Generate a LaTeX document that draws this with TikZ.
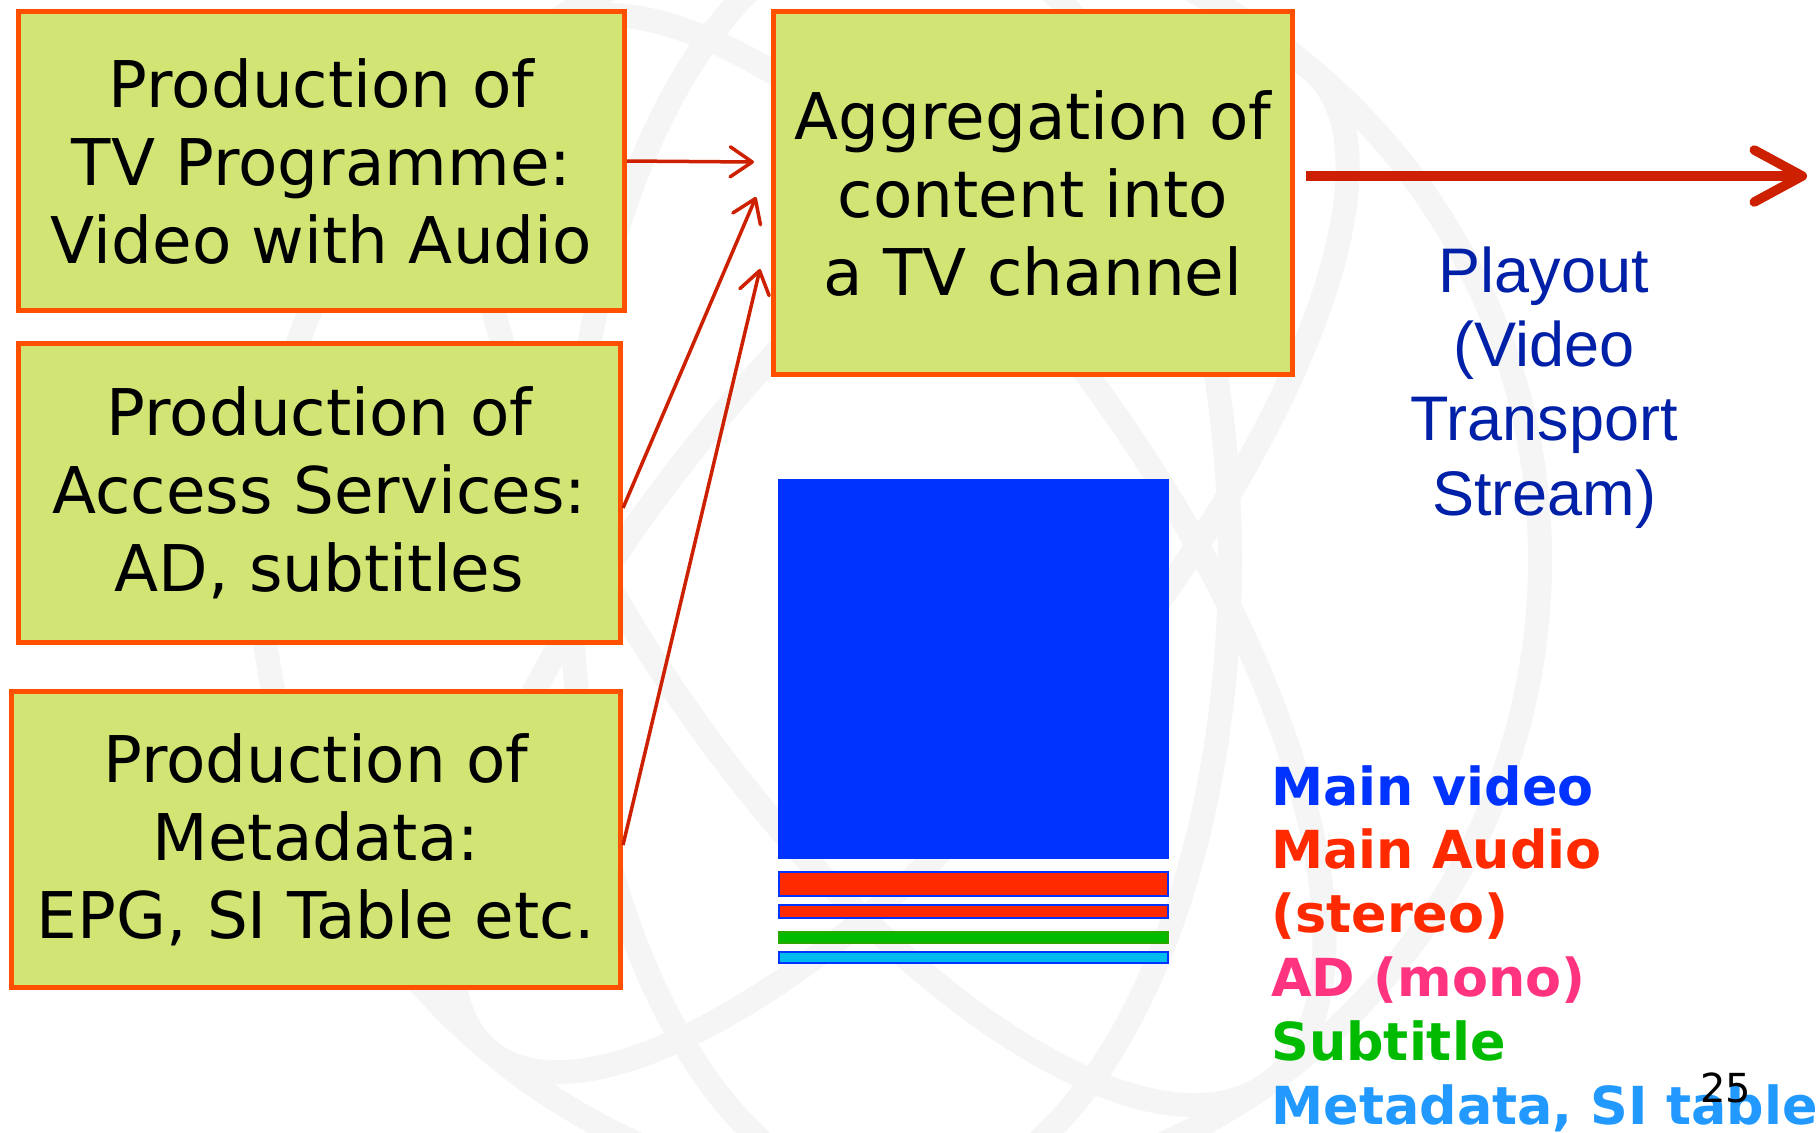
\documentclass[tikz,border=0pt]{standalone}
\usepackage{fontspec}
\setmainfont{DejaVu Sans}
\newfontfamily\arialf{Liberation Sans}
\usetikzlibrary{arrows.meta,calc}
\definecolor{boxfill}{HTML}{D1E474}
\definecolor{boxline}{HTML}{FF5000}
\definecolor{arrowred}{HTML}{CD2000}
\definecolor{playblue}{HTML}{0020A8}
\definecolor{vblue}{HTML}{0033FF}
\definecolor{ared}{HTML}{FF2A00}
\definecolor{adpink}{HTML}{FF3380}
\definecolor{subgreen}{HTML}{00BB00}
\definecolor{metablue}{HTML}{2299FF}
\definecolor{cyanfill}{HTML}{00BBEE}
\definecolor{wm}{HTML}{F5F5F5}
\tikzset{
  prodbox/.style={draw=boxline, fill=boxfill, line width=2.5pt, inner sep=0pt,
    align=center, font=\fontsize{32.2}{39}\selectfont, text=black},
  smallarrow/.style={draw=arrowred, line width=1.75pt,
    -{Straight Barb[length=11pt,width=15pt,round]}},
  bigarrow/.style={draw=arrowred, line width=4.75pt,
    -{Straight Barb[length=24pt,width=26pt,round]}},
  playtext/.style={anchor=base, text=playblue, inner sep=0pt,
    font=\arialf\fontsize{31.5}{37}\selectfont},
  legend/.style={anchor=base west, inner sep=0pt,
    font=\bfseries\fontsize{26.2}{32}\selectfont},
  stripe/.style={draw=vblue, line width=1pt}
}
\begin{document}
\begin{tikzpicture}[x=0.5pt,y=-0.5pt]
\useasboundingbox (0,0) rectangle (1820,1132);
\fill[white] (0,0) rectangle (1820,1132);
% faint watermark globe
\begin{scope}[wm, line width=12pt]
  \draw (900,560) circle [radius=640];
  \draw (900,560) ellipse [x radius=330, y radius=640];
  \draw[rotate around={35:(900,560)}] (900,560) ellipse [x radius=260, y radius=640];
  \draw[rotate around={-40:(900,560)}] (900,560) ellipse [x radius=230, y radius=640];
\end{scope}
% production boxes
\node[prodbox, minimum width=303pt, minimum height=149.5pt] (b1) at (321.5,161)
  {Production of\\TV Programme:\\Video with Audio};
\node[prodbox, minimum width=301pt, minimum height=149.5pt] (b2) at (319.5,493)
  {Production of\\Access Services:\\AD, subtitles};
\node[prodbox, minimum width=304.5pt, minimum height=148pt] (b3) at (316,839.5)
  {Production of\\Metadata:\\EPG, SI Table etc.};
\node[prodbox, minimum width=259.5pt, minimum height=181.5pt] (b4) at (1033,193)
  {Aggregation of\\content into\\a TV channel};
% arrow targets
\coordinate (t1) at (754,162);
\coordinate (t2) at (756,197);
\coordinate (t3) at (760,269);
\coordinate (out) at (1807,176);
\draw[smallarrow] (b1.east) -- (t1);
\draw[smallarrow] ([yshift=-7.5pt]b2.east) -- (t2);
\draw[smallarrow] ([yshift=-2.75pt]b3.east) -- (t3);
\draw[bigarrow] ([xshift=5.5pt,yshift=8.5pt]b4.east) -- (out);
% playout text
\node[playtext] (p1) at (1544,292) {Playout};
\node[playtext] (p2) at (1544,366) {(Video};
\node[playtext] (p3) at (1544,440) {Transport};
\node[playtext] (p4) at (1544,515) {Stream)};
% stream picture
\fill[vblue] (778,479) rectangle (1169,859);
\draw[stripe, fill=ared] (779,872) rectangle (1168,896);
\draw[stripe, fill=ared] (779,905) rectangle (1168,918);
\draw[draw=subgreen!70!olive, line width=1pt, fill=subgreen] (779,932) rectangle (1168,943);
\draw[stripe, fill=cyanfill] (779,952) rectangle (1168,963);
% legend
\node[legend, text=vblue] (l1) at (1271,805) {Main video};
\node[legend, text=ared] (l2) at (1271,868) {Main Audio};
\node[legend, text=ared] (l3) at (1271,932) {(stereo)};
\node[legend, text=adpink] (l4) at (1271,996) {AD (mono)};
\node[legend, text=subgreen] (l5) at (1271,1060) {Subtitle};
\node[legend, text=metablue] (l6) at (1271,1124) {Metadata, SI table};
% page number
\node[anchor=base west, inner sep=0pt, font=\fontsize{20}{24}\selectfont] (pg) at (1700,1102) {25};
\end{tikzpicture}
\end{document}
